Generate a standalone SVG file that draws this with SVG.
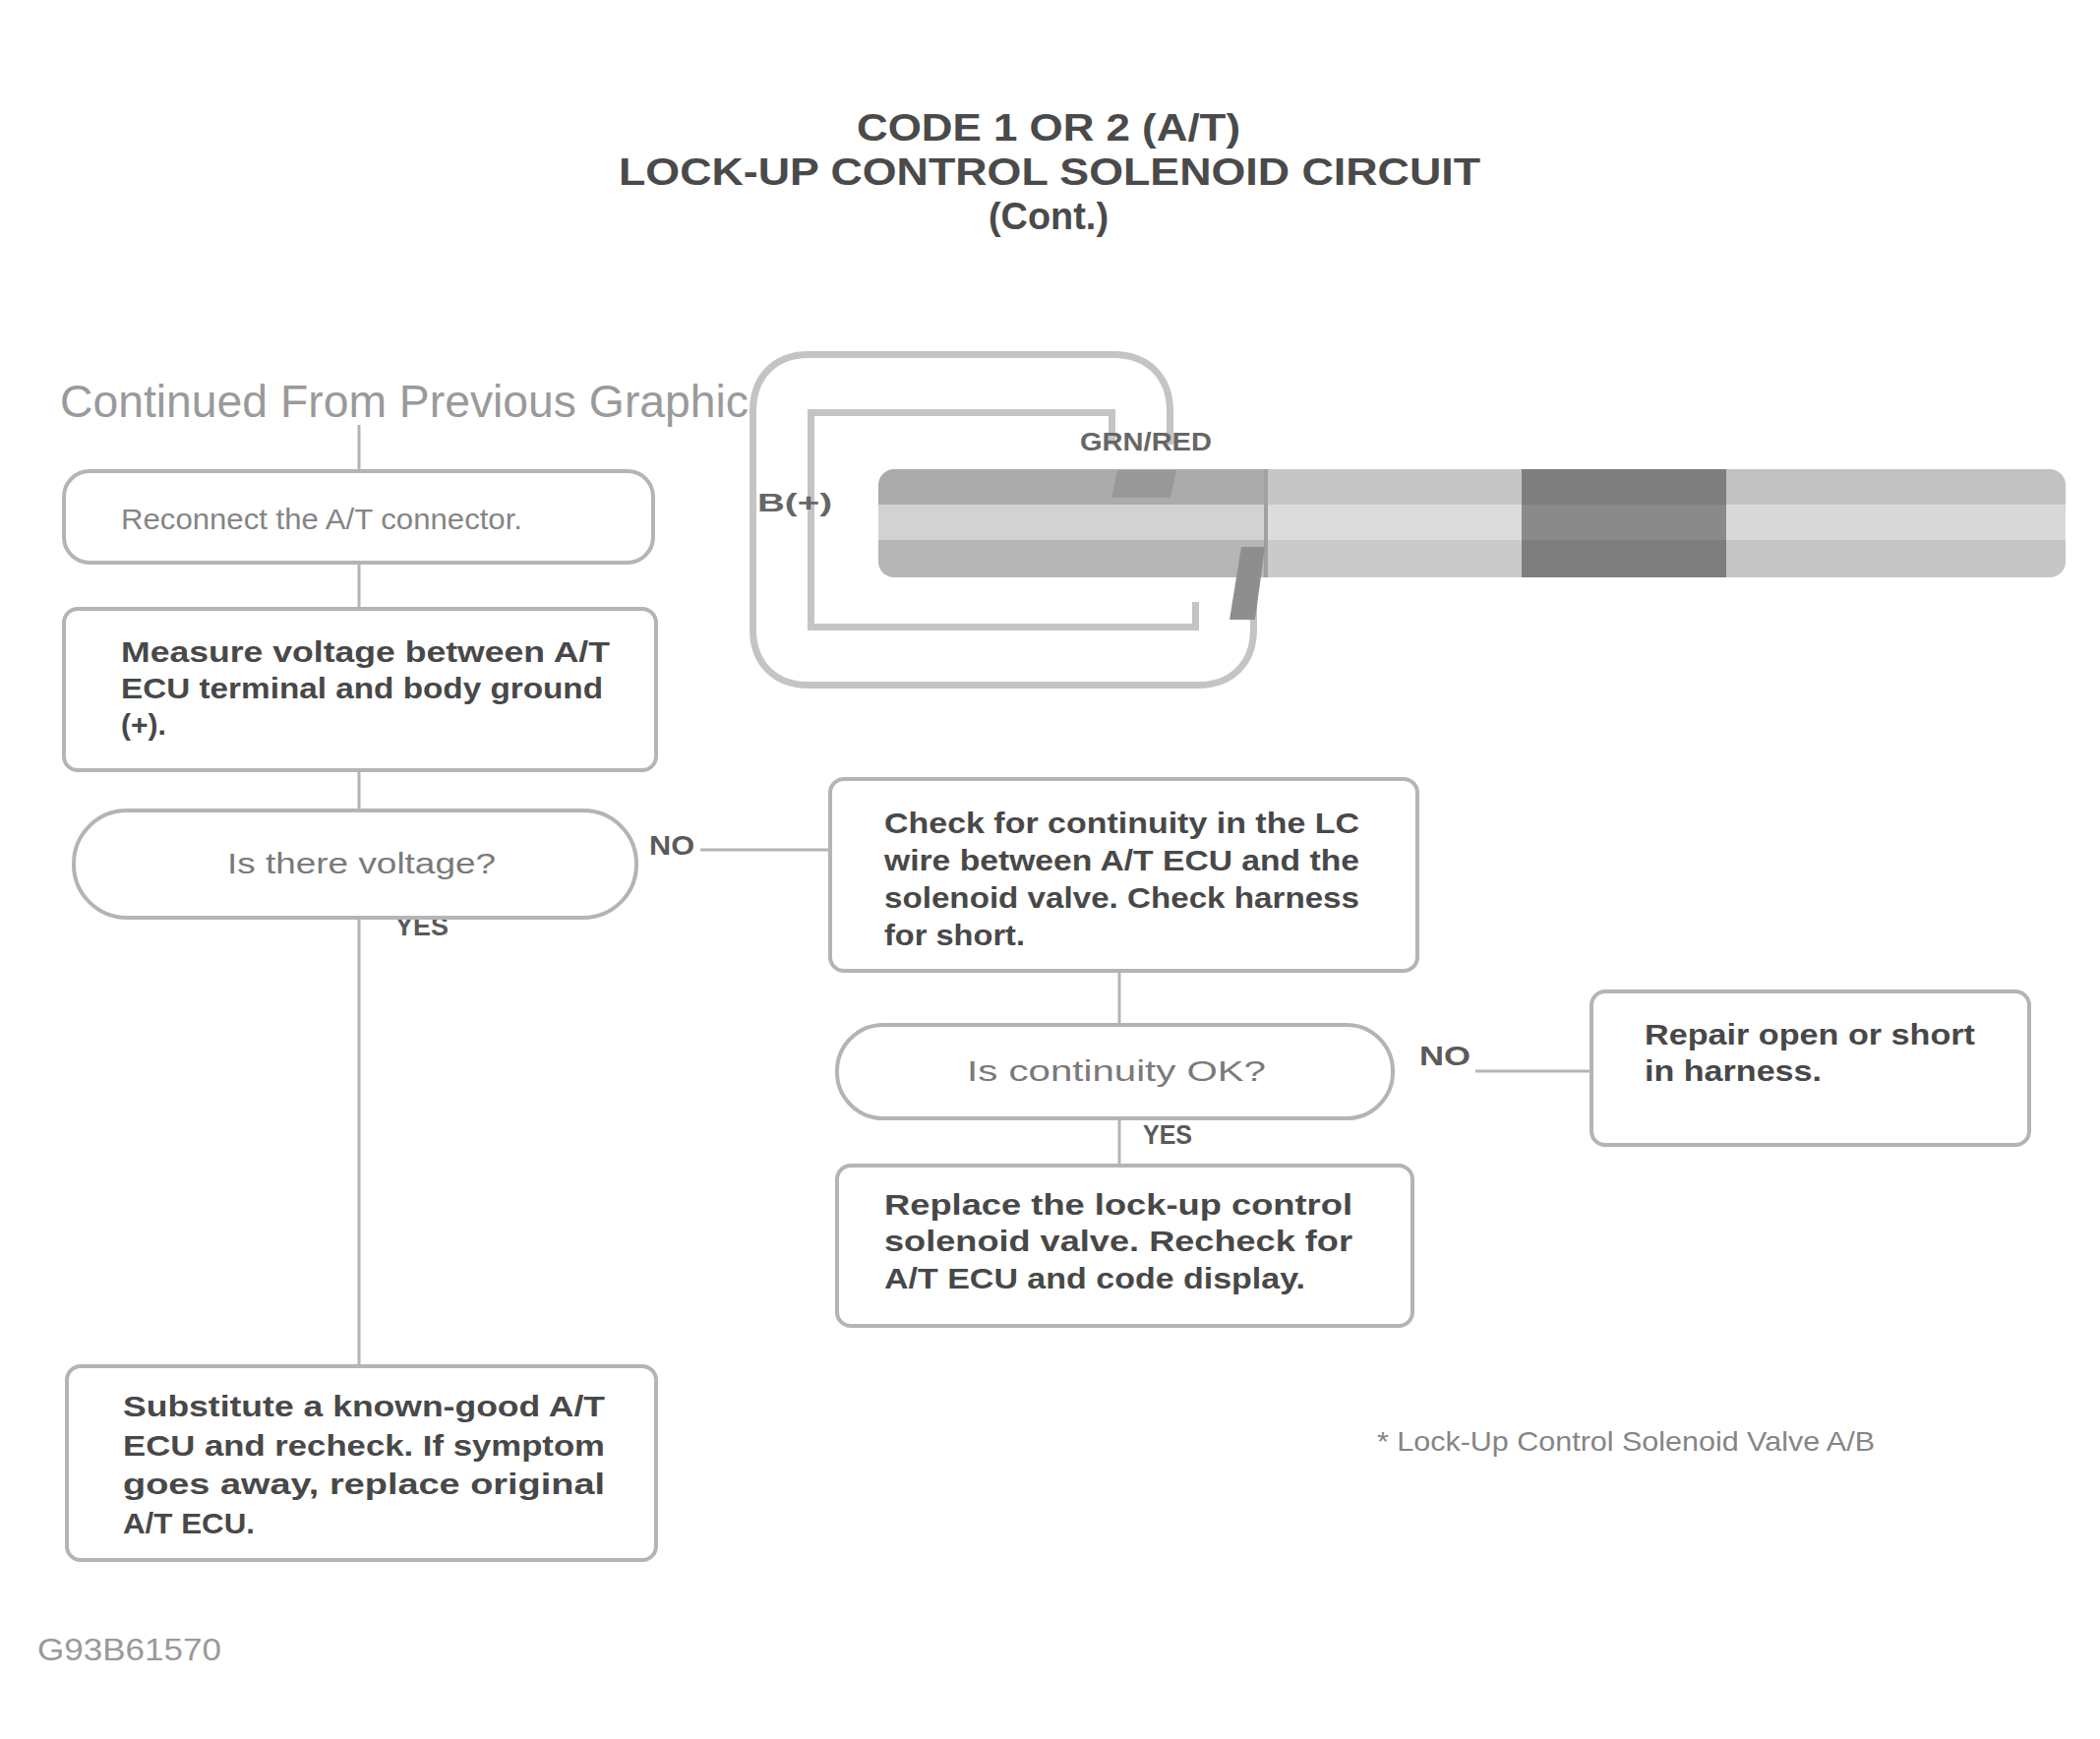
<svg xmlns="http://www.w3.org/2000/svg" width="2135" height="1768" viewBox="0 0 2135 1768">
<style>
.box{fill:#fff;stroke:#b4b4b4;stroke-width:4}
.t{font-family:"Liberation Sans",Arial,sans-serif;fill:#484848}
.b{font-weight:bold}
.ttl{font-family:"Liberation Sans",Arial,sans-serif;font-weight:bold;font-size:39px;fill:#4a4a4a}
.ln{stroke:#b4b4b4;stroke-width:3;fill:none}
.lbl{font-family:"Liberation Sans",Arial,sans-serif;font-weight:bold;font-size:26px;fill:#666}
.yn{font-family:"Liberation Sans",Arial,sans-serif;font-weight:bold;font-size:27px;fill:#5a5a5a}
</style>
<defs>
<clipPath id="strip"><rect x="893" y="477" width="1207" height="110" rx="16"/></clipPath>
</defs>
<rect width="2135" height="1768" fill="#fff"/>
<g id="title">
<text class="ttl" x="871" y="143" textLength="390" lengthAdjust="spacingAndGlyphs">CODE 1 OR 2 (A/T)</text>
<text class="ttl" x="629" y="188" textLength="876" lengthAdjust="spacingAndGlyphs">LOCK-UP CONTROL SOLENOID CIRCUIT</text>
<text class="ttl" x="1005" y="233" textLength="122" lengthAdjust="spacingAndGlyphs">(Cont.)</text>
</g>
<g id="continued"><text class="t" x="61" y="424" font-size="46" style="fill:#9a9a9a" textLength="700" lengthAdjust="spacingAndGlyphs">Continued From Previous Graphic</text></g>
<g id="illustration">
<path d="M1160 452 V418 Q1160 390 1132 390 H822 Q795 390 795 418 V640 Q795 667 822 667 H1218 Q1245 667 1245 640 V612" fill="none" stroke="#c4c4c4" stroke-width="66" stroke-linejoin="round"/>
<path d="M1160 452 V418 Q1160 390 1132 390 H822 Q795 390 795 418 V640 Q795 667 822 667 H1218 Q1245 667 1245 640 V612" fill="none" stroke="#fff" stroke-width="52" stroke-linejoin="round"/>
<g clip-path="url(#strip)">
<rect x="893" y="477" width="394" height="36" fill="#ababab"/>
<rect x="893" y="513" width="394" height="36" fill="#d2d2d2"/>
<rect x="893" y="549" width="394" height="38" fill="#b6b6b6"/>
<rect x="1287" y="477" width="260" height="36" fill="#c6c6c6"/>
<rect x="1287" y="513" width="260" height="36" fill="#dcdcdc"/>
<rect x="1287" y="549" width="260" height="38" fill="#cacaca"/>
<rect x="1547" y="477" width="208" height="110" fill="#7e7e7e"/>
<rect x="1547" y="513" width="208" height="36" fill="#8a8a8a"/>
<rect x="1755" y="477" width="345" height="36" fill="#c2c2c2"/>
<rect x="1755" y="513" width="345" height="36" fill="#d9d9d9"/>
<rect x="1755" y="549" width="345" height="38" fill="#c6c6c6"/>
</g>
<line x1="1287" y1="477" x2="1287" y2="587" stroke="#a0a0a0" stroke-width="4"/>
<polygon points="1136,478 1196,478 1190,506 1130,506" fill="#999"/>
<polygon points="1262,556 1286,556 1276,630 1250,630" fill="#8e8e8e"/>
<text class="lbl" x="1098" y="458" textLength="134" lengthAdjust="spacingAndGlyphs">GRN/RED</text>
<text class="lbl" x="770" y="520" textLength="76" lengthAdjust="spacingAndGlyphs">B(+)</text>
</g>
<g id="connectors">
<line class="ln" x1="365" y1="432" x2="365" y2="479"/>
<line class="ln" x1="365" y1="572" x2="365" y2="619"/>
<line class="ln" x1="365" y1="783" x2="365" y2="824"/>
<line class="ln" x1="365" y1="933" x2="365" y2="1389"/>
<line class="ln" x1="712" y1="864" x2="844" y2="864"/>
<line class="ln" x1="1138" y1="987" x2="1138" y2="1042"/>
<line class="ln" x1="1500" y1="1089" x2="1618" y2="1089"/>
<line class="ln" x1="1138" y1="1137" x2="1138" y2="1185"/>
<text class="yn" x="660" y="869" textLength="46" lengthAdjust="spacingAndGlyphs">NO</text>
<text class="yn" x="402" y="951" textLength="54" lengthAdjust="spacingAndGlyphs">YES</text>
<text class="yn" x="1443" y="1083" textLength="52" lengthAdjust="spacingAndGlyphs">NO</text>
<text class="yn" x="1162" y="1163" textLength="50" lengthAdjust="spacingAndGlyphs">YES</text>
</g>
<g id="n1">
<rect class="box" x="65" y="479" width="599" height="93" rx="26"/>
<text class="t" x="123" y="538" font-size="30" style="fill:#858585" textLength="408" lengthAdjust="spacingAndGlyphs">Reconnect the A/T connector.</text>
</g>
<g id="n2">
<rect class="box" x="65" y="619" width="602" height="164" rx="14"/>
<text class="t b" x="123" y="673" font-size="30" textLength="497" lengthAdjust="spacingAndGlyphs">Measure voltage between A/T</text>
<text class="t b" x="123" y="710" font-size="30" textLength="490" lengthAdjust="spacingAndGlyphs">ECU terminal and body ground</text>
<text class="t b" x="123" y="747" font-size="30">(+).</text>
</g>
<g id="n3">
<rect class="box" x="75" y="824" width="572" height="109" rx="54"/>
<text class="t" x="231" y="888" font-size="30" style="fill:#7a7a7a" textLength="273" lengthAdjust="spacingAndGlyphs">Is there voltage?</text>
</g>
<g id="n4">
<rect class="box" x="844" y="792" width="597" height="195" rx="14"/>
<text class="t b" x="899" y="847" font-size="30" textLength="483" lengthAdjust="spacingAndGlyphs">Check for continuity in the LC</text>
<text class="t b" x="899" y="885" font-size="30" textLength="483" lengthAdjust="spacingAndGlyphs">wire between A/T ECU and the</text>
<text class="t b" x="899" y="923" font-size="30" textLength="483" lengthAdjust="spacingAndGlyphs">solenoid valve. Check harness</text>
<text class="t b" x="899" y="961" font-size="30" textLength="143" lengthAdjust="spacingAndGlyphs">for short.</text>
</g>
<g id="n5">
<rect class="box" x="851" y="1042" width="565" height="95" rx="47"/>
<text class="t" x="983" y="1099" font-size="30" style="fill:#7a7a7a" textLength="304" lengthAdjust="spacingAndGlyphs">Is continuity OK?</text>
</g>
<g id="n6">
<rect class="box" x="1618" y="1008" width="445" height="156" rx="14"/>
<text class="t b" x="1672" y="1062" font-size="30" textLength="336" lengthAdjust="spacingAndGlyphs">Repair open or short</text>
<text class="t b" x="1672" y="1099" font-size="30" textLength="180" lengthAdjust="spacingAndGlyphs">in harness.</text>
</g>
<g id="n7">
<rect class="box" x="851" y="1185" width="585" height="163" rx="14"/>
<text class="t b" x="899" y="1235" font-size="30" textLength="476" lengthAdjust="spacingAndGlyphs">Replace the lock-up control</text>
<text class="t b" x="899" y="1272" font-size="30" textLength="476" lengthAdjust="spacingAndGlyphs">solenoid valve. Recheck for</text>
<text class="t b" x="899" y="1310" font-size="30" textLength="428" lengthAdjust="spacingAndGlyphs">A/T ECU and code display.</text>
</g>
<g id="n8">
<rect class="box" x="68" y="1389" width="599" height="197" rx="14"/>
<text class="t b" x="125" y="1440" font-size="30" textLength="490" lengthAdjust="spacingAndGlyphs">Substitute a known-good A/T</text>
<text class="t b" x="125" y="1480" font-size="30" textLength="490" lengthAdjust="spacingAndGlyphs">ECU and recheck. If symptom</text>
<text class="t b" x="125" y="1519" font-size="30" textLength="490" lengthAdjust="spacingAndGlyphs">goes away, replace original</text>
<text class="t b" x="125" y="1559" font-size="30" textLength="134" lengthAdjust="spacingAndGlyphs">A/T ECU.</text>
</g>
<g id="footnote"><text class="t" x="1400" y="1475" font-size="28" style="fill:#858585" textLength="506" lengthAdjust="spacingAndGlyphs">* Lock-Up Control Solenoid Valve A/B</text></g>
<g id="figid"><text class="t" x="38" y="1688" font-size="32" style="fill:#999" textLength="187" lengthAdjust="spacingAndGlyphs">G93B61570</text></g>
</svg>
